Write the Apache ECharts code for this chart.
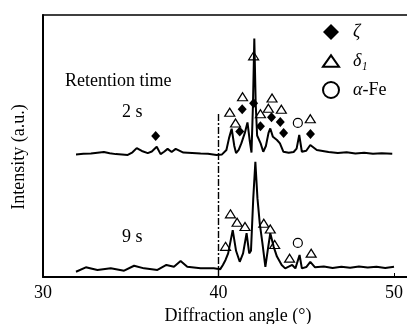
<!DOCTYPE html>
<html>
<head>
<meta charset="utf-8">
<script src="https://cdn.jsdelivr.net/npm/echarts@6/dist/echarts.min.js"></script>
<style>
    html, body { margin: 0; padding: 0; background: #fff; }
    #main { width: 407px; height: 324px; }
</style>
</head>
<body>
<div id="main"></div>
<script>
// 2 s trace [angle, intensity]
var trace2s = [
    [31.88, 46.8], [32.3, 47.0], [32.73, 47.1], [33.1, 47.4], [33.47, 47.7], [33.8, 47.2],
    [34.15, 46.9], [34.5, 46.8], [34.83, 46.6], [35.1, 47.6], [35.34, 49.2], [35.63, 48.1],
    [35.97, 47.3], [36.2, 47.9], [36.48, 49.7], [36.7, 46.9], [36.9, 47.8], [37.1, 48.9],
    [37.33, 47.7], [37.56, 48.9], [38.0, 47.5], [38.5, 47.3], [38.98, 47.1], [39.4, 47.0],
    [39.89, 46.6], [40.2, 46.8], [40.45, 48.5], [40.6, 53], [40.75, 56.6], [40.9, 50],
    [41.0, 47.3], [41.15, 48.5], [41.3, 51], [41.5, 55], [41.65, 59], [41.78, 52],
    [41.88, 47.5], [41.96, 65], [42.04, 91], [42.12, 66], [42.2, 54], [42.3, 53.5],
    [42.4, 51], [42.55, 47.8], [42.7, 50], [42.85, 55], [42.95, 56.7], [43.1, 53.5],
    [43.33, 52.3], [43.5, 51], [43.7, 47.8], [44.0, 47.4], [44.28, 47.7], [44.45, 49],
    [44.6, 54.2], [44.75, 47.8], [45.0, 48.2], [45.23, 50.4], [45.6, 48.5], [46.27, 47.7],
    [46.8, 47.3], [47.3, 47.6], [47.8, 47.1], [48.3, 47.4], [48.8, 47.0], [49.3, 47.2],
    [49.9, 47.0]
];

// 9 s trace
var trace9s = [
    [31.88, 2.0], [32.44, 3.7], [33.1, 2.7], [33.86, 3.3], [34.62, 2.4], [35.19, 4.3],
    [35.76, 3.3], [36.52, 2.7], [37.03, 4.6], [37.46, 3.9], [37.84, 6.1], [38.22, 3.9],
    [38.98, 3.3], [39.73, 3.3], [40.1, 3.0], [40.25, 4.6], [40.4, 6.5], [40.55, 9],
    [40.81, 17.9], [41.0, 10], [41.21, 5.8], [41.4, 9], [41.6, 16.7], [41.75, 9],
    [41.85, 10], [41.98, 30], [42.1, 44], [42.22, 30], [42.35, 20.5], [42.5, 13],
    [42.67, 3.9], [42.8, 10], [42.95, 16.7], [43.14, 11.6], [43.33, 7.8], [43.6, 4.6],
    [43.8, 3.3], [44.2, 4.6], [44.38, 3.3], [44.62, 8.4], [44.75, 3.3], [45.0, 3.8],
    [45.23, 5.8], [45.5, 3.7], [46.0, 4.0], [46.5, 3.4], [47.0, 3.9], [47.5, 3.5],
    [48.0, 4.0], [48.5, 3.6], [49.0, 3.9], [49.5, 3.4], [50.0, 3.9]
];

// peak markers
var zetaPts = [
    [36.42, 53.8], [41.21, 55.5], [41.35, 64], [42.0, 66.3], [42.39, 57.5],
    [43.02, 61], [43.52, 59.2], [43.71, 55], [45.24, 54.6]
];
var deltaPts = [
    [42.0, 84.4], [40.64, 62.9], [41.37, 68.8], [40.97, 58.8], [42.39, 62.3],
    [42.84, 64.4], [43.05, 68.3], [43.58, 64], [45.23, 60.4],
    [40.4, 11.7], [40.68, 24.1], [41.06, 20.9], [41.51, 19.3], [42.58, 20.5],
    [42.95, 18.3], [43.2, 12.4], [44.05, 7.2], [45.28, 9.1]
];
var alphaPts = [[44.52, 58.8], [44.52, 13]];

var xTicks = [30, 40, 50];

var serif = "'Liberation Serif', 'DejaVu Serif', serif";
var myChart = echarts.init(document.getElementById('main'));

var option = {
    animation: false,
    backgroundColor: '#fff',
    grid: {
        left: 43,
        right: 0,
        top: 15,
        bottom: 47,
        containLabel: false,
        outerBoundsMode: 'none'
    },
    legend: {
        orient: 'vertical',
        left: 317,
        top: 18,
        itemWidth: 16,
        itemHeight: 16,
        itemGap: 11,
        data: [
            { name: 'ζ' },
            { name: 'δ₁', icon: 'path://M0,12L8.5,0L17,12Z' },
            { name: 'α-Fe' }
        ],
        formatter: function(name) {
            if (name === 'α-Fe') return '{i|α}-Fe';
            return '{i|' + name + '}';
        },
        textStyle: {
            color: '#000',
            fontFamily: serif,
            fontSize: 18,
            padding: [0, 0, 0, 9],
            rich: {
                i: { fontStyle: 'italic', fontFamily: serif, fontSize: 18 }
            }
        }
    },
    graphic: [
        { type: 'text', left: 65, top: 72, style: { text: 'Retention time', font: '18px ' + serif, fill: '#000' } },
        { type: 'text', left: 122, top: 103, style: { text: '2 s', font: '18px ' + serif, fill: '#000' } },
        { type: 'text', left: 122, top: 228, style: { text: '9 s', font: '18px ' + serif, fill: '#000' } }
    ],
    xAxis: [{
        type: 'value',
        min: 30,
        max: 50.74,
        interval: 10,
        name: 'Diffraction angle (°)',
        nameLocation: 'middle',
        nameGap: 30,
        nameTextStyle: {
            color: '#000',
            fontFamily: serif,
            fontSize: 18,
            padding: [0, 0, 0, 26]
        },
        axisLine: { lineStyle: { color: '#000', width: 2 } },
        axisTick: { inside: true, length: 4, lineStyle: { color: '#000' } },
        axisLabel: {
            color: '#000',
            fontFamily: serif,
            fontSize: 18,
            margin: 7,
            showMaxLabel: false,
            formatter: function(v) {
                return xTicks.indexOf(v) >= 0 ? String(v) : '';
            }
        },
        splitLine: { show: false }
    }, {
        type: 'value',
        position: 'top',
        min: 30,
        max: 50.74,
        axisLine: { onZero: false, lineStyle: { color: '#000', width: 1.6 } },
        axisTick: { show: false },
        axisLabel: { show: false },
        splitLine: { show: false }
    }],
    yAxis: {
        type: 'value',
        min: 0,
        max: 100,
        name: 'Intensity (a.u.)',
        nameLocation: 'middle',
        nameGap: 15,
        nameTextStyle: {
            color: '#000',
            fontFamily: serif,
            fontSize: 18,
            padding: [0, 22, 0, 0]
        },
        axisLine: { show: true, lineStyle: { color: '#000', width: 2 } },
        axisTick: { show: false },
        axisLabel: { show: false },
        splitLine: { show: false }
    },
    series: [{
        name: '2 s',
        type: 'line',
        data: trace2s,
        showSymbol: false,
        lineStyle: { color: '#000', width: 2 },
        markLine: {
            silent: true,
            symbol: 'none',
            label: { show: false },
            lineStyle: { color: '#000', width: 1.4, type: [7, 2, 2, 2] },
            data: [[{ coord: [40, 0] }, { coord: [40, 63] }]]
        }
    }, {
        name: '9 s',
        type: 'line',
        data: trace9s,
        showSymbol: false,
        lineStyle: { color: '#000', width: 2 }
    }, {
        name: 'ζ',
        type: 'scatter',
        symbol: 'diamond',
        symbolSize: [9, 10],
        data: zetaPts,
        itemStyle: { color: '#000', opacity: 1 }
    }, {
        name: 'δ₁',
        type: 'scatter',
        symbol: 'triangle',
        symbolSize: [10, 8],
        data: deltaPts,
        itemStyle: { color: '#fff', borderColor: '#000', borderWidth: 1.2, opacity: 1 }
    }, {
        name: 'α-Fe',
        type: 'scatter',
        symbol: 'circle',
        symbolSize: 9,
        data: alphaPts,
        itemStyle: { color: '#fff', borderColor: '#000', borderWidth: 1.2, opacity: 1 }
    }]
};

myChart.setOption(option);
</script>
</body>
</html>
